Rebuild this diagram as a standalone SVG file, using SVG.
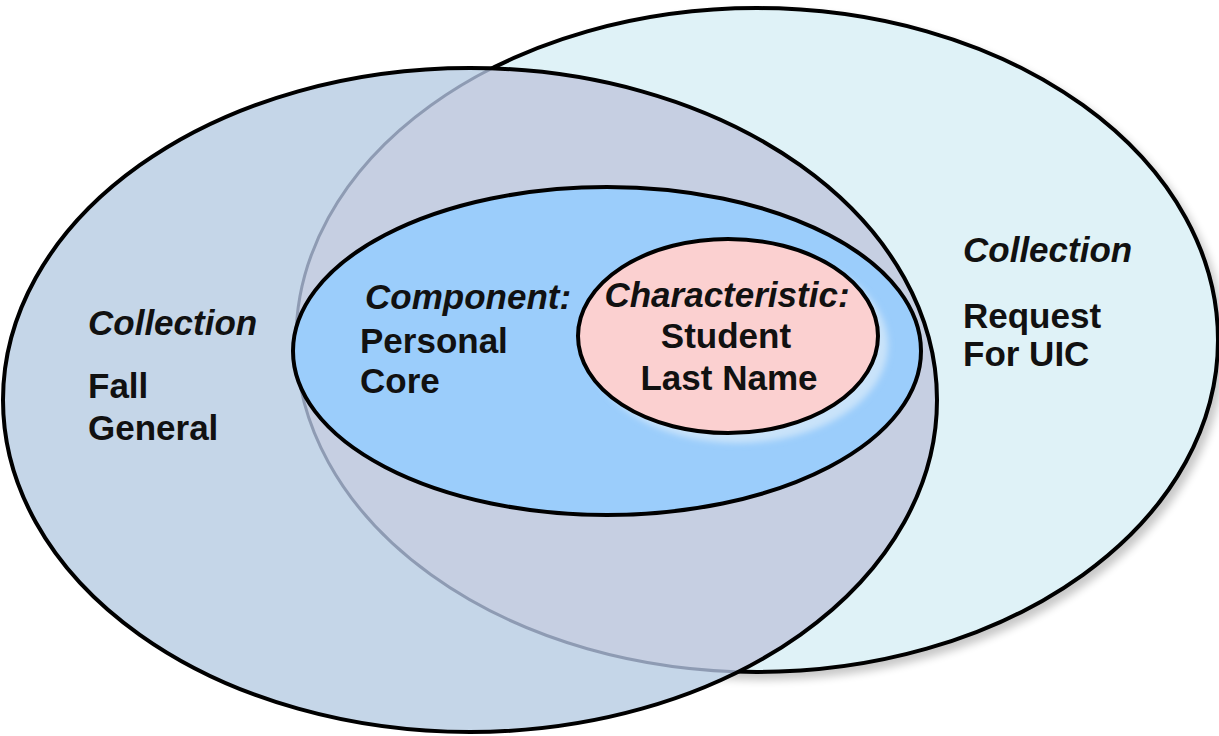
<svg xmlns="http://www.w3.org/2000/svg" width="1219" height="736" viewBox="0 0 1219 736">
<defs>
<style>
.outline{stroke:#000;stroke-width:4;}
.lbl{font-family:"Liberation Sans",Arial,sans-serif;font-weight:bold;font-size:35px;fill:#111;}
.it{font-style:italic;}
</style>
<filter id="shadow" x="-10%" y="-10%" width="125%" height="125%">
<feGaussianBlur in="SourceAlpha" stdDeviation="4"/>
<feOffset dx="5" dy="6" result="b"/>
<feComponentTransfer><feFuncA type="linear" slope="0.22"/></feComponentTransfer>
<feMerge><feMergeNode/><feMergeNode in="SourceGraphic"/></feMerge>
</filter>
<filter id="glow" x="-20%" y="-20%" width="140%" height="140%">
<feGaussianBlur stdDeviation="3"/>
</filter>
<clipPath id="leftClip">
<ellipse cx="470" cy="400" rx="467" ry="332"/>
</clipPath>
</defs>
<rect width="1219" height="736" fill="#fff"/>
<g id="collection-request">
<ellipse cx="757" cy="340" rx="461" ry="332" fill="#DFF2F7" class="outline" filter="url(#shadow)"/>
</g>
<g id="collection-fall">
<ellipse cx="470" cy="400" rx="467" ry="332" fill="#C5D6E8"/>
<g clip-path="url(#leftClip)">
<ellipse cx="757" cy="340" rx="461" ry="332" fill="#C6CFE2" stroke="#8E9BB3" stroke-width="3"/>
</g>
<ellipse cx="470" cy="400" rx="467" ry="332" fill="none" class="outline"/>
</g>
<g id="component">
<ellipse cx="607" cy="351" rx="314" ry="164" fill="#9BCDFB" class="outline"/>
</g>
<g id="characteristic">
<ellipse cx="738" cy="345" rx="150" ry="98" fill="#C9E3FA" filter="url(#glow)"/>
<ellipse cx="728" cy="336" rx="150" ry="97" fill="#FBD0D0" class="outline"/>
</g>
<g id="labels">
<text class="lbl it" x="88" y="335">Collection</text>
<text class="lbl" x="88" y="398">Fall</text>
<text class="lbl" x="88" y="440">General</text>
<text class="lbl it" x="963" y="262">Collection</text>
<text class="lbl" x="963" y="328">Request</text>
<text class="lbl" x="963" y="366">For UIC</text>
<text class="lbl it" x="365" y="309">Component:</text>
<text class="lbl" x="360" y="353">Personal</text>
<text class="lbl" x="360" y="393">Core</text>
<text class="lbl it" x="727" y="307" text-anchor="middle">Characteristic:</text>
<text class="lbl" x="726" y="348" text-anchor="middle">Student</text>
<text class="lbl" x="729" y="390" text-anchor="middle">Last Name</text>
</g>
<g id="connectors"/>
</svg>
